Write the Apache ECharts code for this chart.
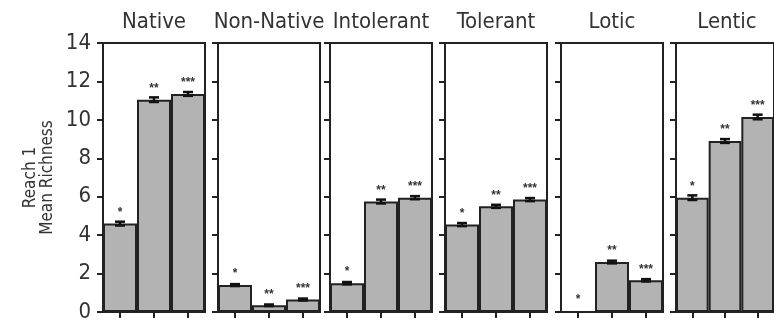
<!DOCTYPE html>
<html>
<head>
<meta charset="utf-8">
<script src="https://cdn.jsdelivr.net/npm/echarts@6/dist/echarts.min.js"></script>
<style>
  html, body { margin: 0; padding: 0; background: #fff; }
  #chart { width: 774px; height: 329px; }
</style>
</head>
<body>
<div id="chart"></div>
<script>
// Mean species richness at Reach 1, by guild, for three sampling groups
const panels = ['Native', 'Non-Native', 'Intolerant', 'Tolerant', 'Lotic', 'Lentic'];
const groups = ['1', '2', '3'];
const stars = ['*', '**', '***'];

const nativeMean     = [4.6, 11.05, 11.35];
const nonNativeMean  = [1.4, 0.35, 0.65];
const intolerantMean = [1.5, 5.75, 5.95];
const tolerantMean   = [4.55, 5.5, 5.85];
const loticMean      = [0.0, 2.6, 1.65];
const lenticMean     = [5.95, 8.9, 10.15];

const nativeSE     = [0.1, 0.12, 0.1];
const nonNativeSE  = [0.05, 0.04, 0.05];
const intolerantSE = [0.06, 0.1, 0.08];
const tolerantSE   = [0.08, 0.08, 0.08];
const loticSE      = [0.0, 0.07, 0.06];
const lenticSE     = [0.12, 0.1, 0.12];

const yTicks = [0, 2, 4, 6, 8, 10, 12, 14];

const means = [nativeMean, nonNativeMean, intolerantMean, tolerantMean, loticMean, lenticMean];
const errs  = [nativeSE, nonNativeSE, intolerantSE, tolerantSE, loticSE, lenticSE];

const panelLeft = [103, 218, 330, 445, 561, 676];
const panelWidth = 102;
const panelTop = 43;
const panelHeight = 269;

const ink = '#222';
const narrow = '"Liberation Sans Narrow", "Arial Narrow", "DejaVu Sans Condensed", "Liberation Sans", sans-serif';

const chart = echarts.init(document.getElementById('chart'), null, { renderer: 'canvas' });

const grid = [], xAxis = [], yAxis = [], series = [], title = [];

panels.forEach((name, i) => {
  grid.push({
    left: panelLeft[i], top: panelTop, width: panelWidth, height: panelHeight,
    show: true, borderColor: ink, borderWidth: 2, backgroundColor: 'transparent'
  });
  title.push({
    text: name,
    left: panelLeft[i] + panelWidth / 2,
    top: 11,
    padding: 0,
    textAlign: 'center',
    textStyle: { fontFamily: narrow, fontSize: 22, fontWeight: 'normal', color: '#333' }
  });
  xAxis.push({
    type: 'category', gridIndex: i, data: groups,
    axisLine: { show: true, lineStyle: { color: ink, width: 2 } },
    axisTick: { show: true, alignWithLabel: true, length: 6, lineStyle: { color: ink, width: 2 } },
    axisLabel: { show: false },
    splitLine: { show: false }
  });
  yAxis.push({
    type: 'value', gridIndex: i, min: yTicks[0], max: yTicks[yTicks.length - 1], interval: 2,
    name: i === 0 ? 'Reach 1\nMean Richness' : '',
    nameLocation: 'middle', nameGap: 47,
    nameTextStyle: { fontFamily: narrow, fontSize: 17, color: '#333', lineHeight: 17 },
    axisLine: { show: true, lineStyle: { color: ink, width: 2 } },
    axisTick: { show: true, length: 6, lineStyle: { color: ink, width: 2 } },
    axisLabel: {
      show: i === 0, margin: 12,
      fontFamily: narrow, fontSize: 22, color: '#333'
    },
    splitLine: { show: false }
  });
  series.push({
    type: 'bar', xAxisIndex: i, yAxisIndex: i,
    data: means[i],
    barCategoryGap: '0%',
    itemStyle: { color: '#b3b3b3', borderColor: ink, borderWidth: 2 },
    label: {
      show: true, position: 'top', distance: 5,
      formatter: p => stars[p.dataIndex],
      fontSize: 12, fontWeight: 'bold', color: '#333'
    },
    z: 2
  });
  series.push({
    type: 'custom', xAxisIndex: i, yAxisIndex: i,
    data: means[i].map((v, k) => [k, v, errs[i][k]]),
    encode: { x: 0, y: 1 },
    z: 5,
    renderItem: (params, api) => {
      const x = api.value(0), v = api.value(1), e = api.value(2);
      if (!(e > 0)) return null;
      const hi = api.coord([x, v + e]);
      const lo = api.coord([x, v - e]);
      const half = 5;
      const style = { stroke: '#111', lineWidth: 2.5 };
      return {
        type: 'group',
        children: [
          { type: 'line', shape: { x1: hi[0], y1: hi[1], x2: lo[0], y2: lo[1] }, style },
          { type: 'line', shape: { x1: hi[0] - half, y1: hi[1], x2: hi[0] + half, y2: hi[1] }, style },
          { type: 'line', shape: { x1: lo[0] - half, y1: lo[1], x2: lo[0] + half, y2: lo[1] }, style }
        ]
      };
    }
  });
});

chart.setOption({
  animation: false,
  backgroundColor: '#fff',
  title, grid, xAxis, yAxis, series
});
</script>
</body>
</html>
